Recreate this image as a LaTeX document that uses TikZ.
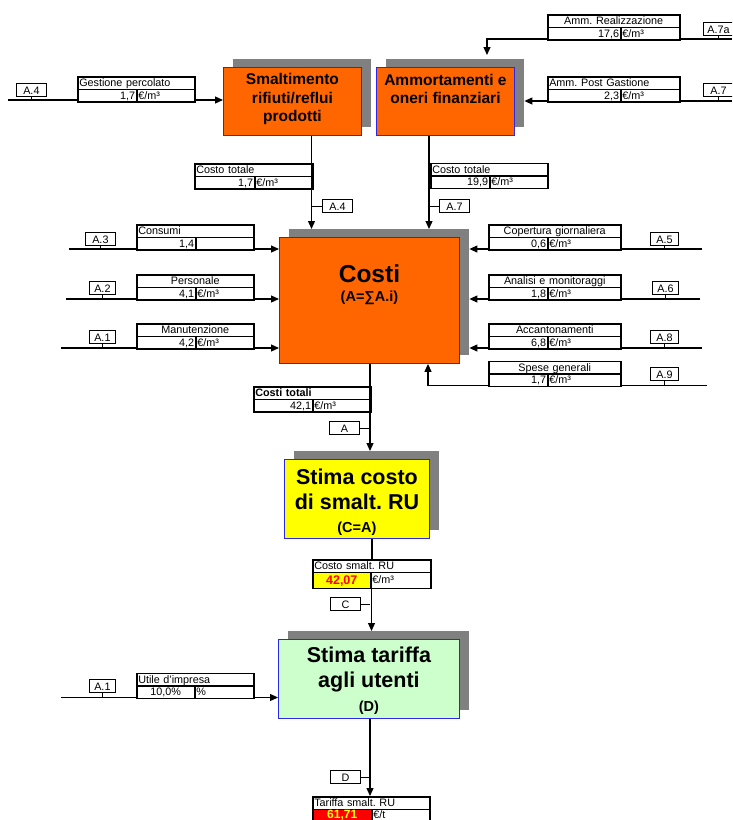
\documentclass[tikz,border=0pt]{standalone}
\usepackage{fontspec}
\setmainfont{Liberation Sans}
\usetikzlibrary{arrows.meta,calc}
\definecolor{xorange}{RGB}{255,102,0}
\definecolor{xgreen}{RGB}{204,255,204}
\definecolor{xyellow}{RGB}{255,255,0}
\definecolor{xred}{RGB}{255,0,0}
\definecolor{xgray}{RGB}{128,128,128}
\definecolor{xblue}{RGB}{40,40,230}
\newcommand\tabfont{\fontsize{10.8}{12}\selectfont}
\newcommand\dtab[9]{%
 \pgfmathsetmacro\dtabw{#4-#2-3}%
 \pgfmathsetmacro\dtabvw{#5-#2-3}%
 \pgfmathsetmacro\dtabuw{#4-#5-3}%
 \node[tcell,#6,anchor=north west,text width=\dtabw pt] (#1t) at (#2,#3) {#7};
 \node[tcell,vst,anchor=north west,text width=\dtabvw pt] (#1v) at (#2,#3+12.5) {#8};
 \node[tcell,align=left,anchor=north west,text width=\dtabuw pt] (#1u) at (#5,#3+12.5) {#9};
}
\newcommand\lab[5]{\node[labbox,anchor=north west,minimum width=#4] (#1) at (#2,#3) {#5};}
\frenchspacing
\begin{document}
\begin{tikzpicture}[x=1pt,y=-1pt,
  tcell/.style={draw,line width=1.5pt,fill=white,inner xsep=1.5pt,inner ysep=0pt,
    minimum height=12.5pt,font=\tabfont,text height=8.6pt,text depth=1.6pt},
  vst/.style={align=right},
  labbox/.style={draw,line width=0.8pt,fill=white,inner xsep=0pt,inner ysep=0.5pt,
    font=\tabfont,text height=10.5pt,text depth=1.5pt},
  bigbox/.style={draw=xblue,line width=0.9pt,anchor=north west},
  shad/.style={fill=xgray,anchor=north west,inner sep=0pt},
  conn/.style={line width=1.2pt,-{Triangle[length=8pt,width=7pt]}},
  plain/.style={line width=1.2pt},
  tick/.style={line width=0.8pt},
  ttl/.style={font=\bfseries\fontsize{15.5}{18.3}\selectfont,align=center,inner sep=0pt},
  ttlb/.style={font=\bfseries\fontsize{21.5}{25}\selectfont,align=center,inner sep=0pt},
  ttls/.style={font=\bfseries\fontsize{14.5}{16}\selectfont,inner sep=0pt}]
\useasboundingbox (0,0) rectangle (732,820);
\clip (0,0) rectangle (732,820);
\fill[white] (0,0) rectangle (732,820);

% shadows
\node[shad,minimum width=138,minimum height=68] (smalS) at (233,59) {};
\node[shad,minimum width=138,minimum height=68] (ammS) at (386,59) {};
\node[shad,minimum width=180,minimum height=126] (costiS) at (289,229) {};
\node[shad,minimum width=145,minimum height=79] (stimaS) at (294,451) {};
\node[shad,minimum width=181,minimum height=79] (tarS) at (288,631) {};
% boxes
\node[bigbox,fill=xorange,minimum width=138,minimum height=68] (smal) at (223,67) {};
\node[bigbox,fill=xorange,minimum width=138,minimum height=68] (amm) at (376,67) {};
\node[bigbox,fill=xorange,minimum width=180,minimum height=126] (costi) at (279,237) {};
\node[bigbox,fill=xyellow,minimum width=145,minimum height=79] (stima) at (284,459) {};
\node[bigbox,fill=xgreen,minimum width=181,minimum height=79] (tar) at (278,639) {};
% box texts
\node[ttl] (smalT) at ($(smal.north)+(0,32)$) {Smaltimento\\rifiuti/reflui\\prodotti};
\node[ttl] (ammT) at ($(amm.north)+(0,22)$) {Ammortamenti e\\oneri finanziari};
\node[font=\bfseries\fontsize{24.5}{28}\selectfont,inner sep=0pt] (costiT) at ($(costi.north)+(0,37)$) {Costi};
\node[ttls] (costiF) at ($(costi.north)+(0,61)$) {(A=∑A.i)};
\node[ttlb] (stimaT) at ($(stima.north)+(0,30.5)$) {Stima costo\\di smalt. RU};
\node[ttls] (stimaF) at ($(stima.north)+(0,70)$) {(C=A)};
\node[ttlb] (tarT) at ($(tar.north)+(0,30.5)$) {Stima tariffa\\agli utenti};
\node[ttls] (tarF) at ($(tar.north)+(0,69)$) {(D)};

% coordinates
\coordinate (g0) at (8,100);
\coordinate (r0) at (732,39); \coordinate (r1) at (487,55);
\coordinate (p0) at (732,101);
\coordinate (s1) at (311.5,0); \coordinate (a1) at (429,0);
\coordinate (c3) at (69,249); \coordinate (c2) at (66,299); \coordinate (c1) at (61,348);
\coordinate (c5) at (702,249); \coordinate (c6) at (700,299); \coordinate (c8) at (702,348);
\coordinate (c9) at (707,385.5); \coordinate (sx) at (428,0);
\coordinate (m1) at (370,0); \coordinate (m2) at (372,0);
\coordinate (c10) at (61,697.5);

% horizontal input connectors
\draw[conn] (g0) -- (g0 -| smal.west);
\draw[conn] (r0) -| (r1);
\draw[conn] (p0) -- (p0 -| ammS.east);
\draw[conn] (c3) -- (c3 -| costi.west);
\draw[conn] (c2) -- (c2 -| costi.west);
\draw[conn] (c1) -- (c1 -| costi.west);
\draw[conn] (c5) -- (c5 -| costiS.east);
\draw[conn] (c6) -- (c6 -| costiS.east);
\draw[conn] (c8) -- (c8 -| costiS.east);
\draw[conn] (c9) -| (costi.south -| sx);
\draw[conn] (c10) -- (c10 -| tar.west);

% tables
\dtab{gp}{77}{76}{194}{136}{align=left}{Gestione percolato}{1,7}{€/m³}
\dtab{ar}{547}{14}{679}{620}{align=center}{Amm. Realizzazione}{17,6}{€/m³}
\dtab{ap}{547}{76}{679}{620}{align=left}{Amm. Post Gastione}{2,3}{€/m³}
\dtab{ctl}{194}{163}{312}{254}{align=left}{Costo totale}{1,7}{€/m³}
\dtab{ctr}{430}{162.5}{547}{489}{align=left}{Costo totale}{19,9}{€/m³}
\dtab{cons}{136}{224}{253}{195}{align=left}{Consumi}{1,4}{}
\dtab{pers}{136}{274}{253}{195}{align=center}{Personale}{4,1}{€/m³}
\dtab{man}{136}{323}{253}{195}{align=center}{Manutenzione}{4,2}{€/m³}
\dtab{cop}{488}{224}{620}{547}{align=center}{Copertura giornaliera}{0,6}{€/m³}
\dtab{ana}{488}{274}{620}{547}{align=center}{Analisi e monitoraggi}{1,8}{€/m³}
\dtab{acc}{488}{323}{620}{547}{align=center}{Accantonamenti}{6,8}{€/m³}
\dtab{spe}{488}{360.5}{620}{547}{align=center}{Spese generali}{1,7}{€/m³}
\dtab{ctot}{253}{386}{370}{312}{align=left,font=\tabfont\bfseries}{Costi totali}{42,1}{€/m³}
\begin{scope}[vst/.style={align=center}]
\dtab{ut}{136}{672.5}{253}{194}{align=left}{Utile d'impresa}{10,0\%}{\%}
\end{scope}
% Costo smalt. RU
\node[tcell,align=left,anchor=north west,text width=115pt] (cst) at (312,559) {Costo smalt. RU};
\node[tcell,fill=xyellow,anchor=north west,minimum height=16pt,text width=55pt,align=center,
  font=\bfseries\fontsize{12.5}{14}\selectfont,text=xred,text height=9pt,text depth=0pt] (csv) at (312,571.5) {42,07};
\node[tcell,anchor=north west,minimum height=16pt,text width=57pt,align=left] (csu) at (370,571.5) {€/m³};
% Tariffa smalt. RU
\node[tcell,align=left,anchor=north west,text width=114pt] (tst) at (312,796) {Tariffa smalt. RU};
\node[tcell,fill=xred,anchor=north west,minimum height=12pt,text width=56pt,align=center,
  font=\bfseries\fontsize{12}{13}\selectfont,text=xyellow,text height=7.5pt,text depth=2pt] (tsv) at (312,808.5) {61,71};
\node[tcell,anchor=north west,minimum height=12pt,text width=55pt,align=left] (tsu) at (371,808.5) {€/t};

% vertical connectors
\draw[conn] (smal.south -| s1) -- (costiS.north -| s1);
\draw[conn] (amm.south -| a1) -- (costiS.north -| a1);
\draw[conn] (costi.south -| m1) -- (stimaS.north -| m1);
\draw[plain] (stima.south -| m2) -- (cst.north -| m2);
\draw[conn] (csv.south east) -- (tarS.north -| csv.south east);
\draw[conn] (tar.south -| m1) -- (tst.north -| m1);

% labels
\lab{l4a}{16}{83}{30}{A.4}
\lab{l4b}{322}{199}{30}{A.4}
\lab{l7b}{439}{199}{30}{A.7}
\lab{l7a}{703}{22}{30}{A.7a}
\lab{l7r}{703}{83}{30}{A.7}
\lab{l3}{85}{232}{30}{A.3}
\lab{l2}{89}{281}{26}{A.2}
\lab{l1}{89}{330}{26}{A.1}
\lab{l5}{650}{232}{28}{A.5}
\lab{l6}{652}{281}{26}{A.6}
\lab{l8}{650}{330}{28}{A.8}
\lab{l9}{650}{367}{28}{A.9}
\lab{lA}{329}{421}{30}{A}
\lab{lC}{330}{597}{30}{C}
\lab{lu}{89}{679}{26}{A.1}
\lab{lD}{330}{770}{30}{D}
% ticks
\draw[tick] (l4a.south) -- (l4a.south |- g0);
\draw[tick] (l4b.west) -- (l4b.west -| s1);
\draw[tick] (l7b.west) -- (l7b.west -| a1);
\draw[tick] (l7a.south) -- (l7a.south |- r0);
\draw[tick] (l7r.south) -- (l7r.south |- p0);
\draw[tick] (l3.south) -- (l3.south |- c3);
\draw[tick] (l2.south) -- (l2.south |- c2);
\draw[tick] (l1.south) -- (l1.south |- c1);
\draw[tick] (l5.south) -- (l5.south |- c5);
\draw[tick] (l6.south) -- (l6.south |- c6);
\draw[tick] (l8.south) -- (l8.south |- c8);
\draw[tick] (l9.south) -- (l9.south |- c9);
\draw[tick] (lA.east) -- (lA.east -| m1);
\draw[tick] (lC.east) -- (lC.east -| m1);
\draw[tick] (lu.south) -- (lu.south |- c10);
\draw[tick] (lD.east) -- (lD.east -| m1);
\end{tikzpicture}
\end{document}
